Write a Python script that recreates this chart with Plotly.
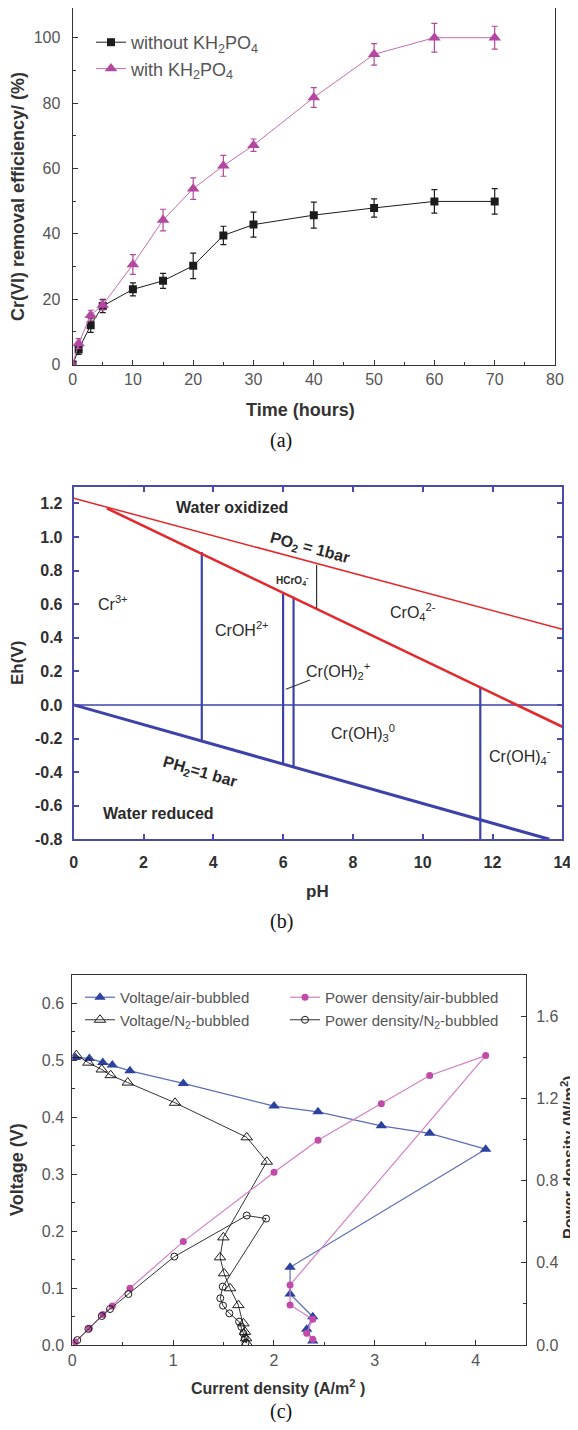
import plotly.graph_objects as go

W, H = 578, 1430
OFF = 8  # the page body margin shifts the figure by 8 px
FW, FH = W - OFF, H - 2 * OFF  # keep the page free of scrollbars
FONT = "Liberation Sans, Arial, sans-serif"
SERIF = "Liberation Serif, Times New Roman, serif"

# ---------------- (a) Cr(VI) removal efficiency ----------------
time_h = [0, 1, 3, 5, 10, 15, 20, 25, 30, 40, 50, 60, 70]
eff_without = [0, 4.6, 12.0, 17.9, 23.0, 25.6, 30.2, 39.5, 42.8, 45.7, 47.9, 49.9, 49.9]
err_without = [0, 1.5, 2.2, 2.0, 2.0, 2.3, 3.9, 2.8, 3.8, 4.0, 2.8, 3.6, 3.9]
eff_with = [0, 6.4, 15.1, 18.2, 30.6, 44.2, 53.8, 60.8, 67.1, 81.7, 94.9, 100, 100]
err_with = [0, 1.5, 1.5, 1.5, 3.0, 3.3, 3.3, 3.2, 1.9, 3.0, 3.3, 4.4, 3.5]

# ---------------- (b) Eh-pH diagram ----------------
o2_ph = [0, 14]
o2_eh = [1.23, 0.45]
cr6_ph = [0.95, 14]
cr6_eh = [1.17, -0.13]
h2_ph = [0, 13.63]
h2_eh = [0.0, -0.80]
zero_ph = [0, 14]
zero_eh = [0.0, 0.0]
bound_ph = [3.67, 6.0, 6.3, 11.65]
bound_low = [-0.218, -0.348, -0.372, -0.80]
bound_high = [0.91, 0.67, 0.644, 0.107]
hcro4_ph = [6.96, 6.96]
hcro4_eh = [0.575, 0.833]
pointer_ph = [6.08, 6.77]
pointer_eh = [0.093, 0.148]
region_labels = ["Water oxidized", "PO<sub>2</sub> = 1bar", "HCrO<sub>4</sub><sup>-</sup>",
                 "Cr<sup>3+</sup>", "CrOH<sup>2+</sup>", "CrO<sub>4</sub><sup>2-</sup>",
                 "Cr(OH)<sub>2</sub><sup>+</sup>", "Cr(OH)<sub>3</sub><sup>0</sup>",
                 "Cr(OH)<sub>4</sub><sup>-</sup>", "PH<sub>2</sub>=1 bar", "Water reduced"]
region_ph = [4.54, 6.77, 6.28, 1.13, 4.82, 9.72, 7.58, 8.28, 12.79, 3.62, 2.44]
region_eh = [1.174, 0.93, 0.743, 0.605, 0.45, 0.555, 0.20, -0.165, -0.305, -0.40, -0.645]
eh_ticks = [-0.8, -0.6, -0.4, -0.2, 0.0, 0.2, 0.4, 0.6, 0.8, 1.0, 1.2]
eh_ticktext = ["-0.8", "-0.6", "-0.4", "-0.2", "0.0", "0.2", "0.4", "0.6", "0.8", "1.0", "1.2"]

# ---------------- (c) polarization / power curves ----------------
air_current = [0.03, 0.169, 0.302, 0.397, 0.572, 1.101, 2.001, 2.437, 3.065, 3.545, 4.10,
               2.160, 2.160, 2.385, 2.325, 2.385]
air_voltage = [0.505, 0.5035, 0.4965, 0.4917, 0.4817, 0.4596, 0.4197, 0.4097, 0.385, 0.3718, 0.344,
               0.1365, 0.0896, 0.0497, 0.0276, 0.007]
air_power = [0.015, 0.081, 0.148, 0.19, 0.276, 0.503, 0.840, 0.996, 1.174, 1.311, 1.408,
             0.292, 0.195, 0.125, 0.057, 0.028]
n2_current = [0.04, 0.159, 0.292, 0.381, 0.55, 1.019, 1.730, 1.929, 1.498, 1.465, 1.505,
              1.565, 1.647, 1.697, 1.713, 1.723, 1.730]
n2_voltage = [0.509, 0.496, 0.484, 0.474, 0.461, 0.4255, 0.3648, 0.322, 0.189, 0.154, 0.126,
              0.0996, 0.070, 0.038, 0.023, 0.0118, 0.003]
n2_p_current = [0.05, 0.159, 0.292, 0.374, 0.556, 1.012, 1.730, 1.922, 1.492, 1.468, 1.495,
                1.558, 1.654, 1.676, 1.697, 1.710, 1.718]
n2_power = [0.024, 0.078, 0.141, 0.175, 0.248, 0.430, 0.630, 0.615, 0.284, 0.2275, 0.1915,
            0.154, 0.1136, 0.089, 0.057, 0.0326, 0.011]


def px(x):
    return min(max((x - OFF) / FW, 0.0), 1.0)


def py(y):
    return min(max(1 - (y - OFF) / FH, 0.0), 1.0)


BLACK = "#1c1c1c"
MAG_A = "#B4479F"
MAG_A_LINE = "#C46CB7"
BLUE_C = "#2C42A0"
BLUE_C_LINE = "#5A6CBA"
MAG_C = "#C24AA8"
MAG_C_LINE = "#D27FC6"
RED = "#E5282B"
BBLUE = "#3C42A8"
FRAME_B = "#4A4AAA"

fig = go.Figure()

# ---- (a) traces
fig.add_trace(go.Scatter(
    x=time_h, y=eff_without, mode="lines+markers",
    name="without KH<sub>2</sub>PO<sub>4</sub>",
    line=dict(color=BLACK, width=1),
    marker=dict(symbol="square", size=8, color=BLACK),
    error_y=dict(type="data", array=err_without, color=BLACK, thickness=1.2, width=3),
    xaxis="x", yaxis="y", legend="legend"))
fig.add_trace(go.Scatter(
    x=time_h, y=eff_with, mode="lines+markers",
    name="with KH<sub>2</sub>PO<sub>4</sub>",
    line=dict(color=MAG_A_LINE, width=1),
    marker=dict(symbol="triangle-up", size=11, color=MAG_A),
    error_y=dict(type="data", array=err_with, color=MAG_A, thickness=1.2, width=3),
    xaxis="x", yaxis="y", legend="legend"))

# ---- (b) traces
def seg_lines(xs_pairs, ys_pairs):
    xs, ys = [], []
    for xp, yp in zip(xs_pairs, ys_pairs):
        xs += list(xp) + [None]
        ys += list(yp) + [None]
    return xs, ys


bx, by = seg_lines([[p, p] for p in bound_ph], [[lo, hi] for lo, hi in zip(bound_low, bound_high)])
lines_b = [
    (zero_ph, zero_eh, BBLUE, 1.5),
    (bx, by, BBLUE, 2.2),
    (h2_ph, h2_eh, BBLUE, 3),
    (o2_ph, o2_eh, RED, 1.5),
    (cr6_ph, cr6_eh, RED, 2.6),
    (hcro4_ph, hcro4_eh, "#333333", 1.2),
    (pointer_ph, pointer_eh, "#333333", 1.2),
]
for xs, ys, col, wd in lines_b:
    fig.add_trace(go.Scatter(x=xs, y=ys, mode="lines", line=dict(color=col, width=wd),
                             xaxis="x2", yaxis="y2", showlegend=False, hoverinfo="skip"))

# ---- (c) traces
fig.add_trace(go.Scatter(
    x=air_current, y=air_voltage, mode="lines+markers", name="Voltage/air-bubbled",
    line=dict(color=BLUE_C_LINE, width=1.2),
    marker=dict(symbol="triangle-up", size=10, color=BLUE_C),
    xaxis="x3", yaxis="y3", legend="legend2"))
fig.add_trace(go.Scatter(
    x=air_current, y=air_power, mode="lines+markers", name="Power density/air-bubbled",
    line=dict(color=MAG_C_LINE, width=1.2),
    marker=dict(symbol="circle", size=7, color=MAG_C),
    xaxis="x3", yaxis="y4", legend="legend3"))
fig.add_trace(go.Scatter(
    x=n2_current, y=n2_voltage, mode="lines+markers", name="Voltage/N<sub>2</sub>-bubbled",
    line=dict(color="#333333", width=1),
    marker=dict(symbol="triangle-up-open", size=10, color=BLACK, line=dict(width=1)),
    xaxis="x3", yaxis="y3", legend="legend2"))
fig.add_trace(go.Scatter(
    x=n2_p_current, y=n2_power, mode="lines+markers", name="Power density/N<sub>2</sub>-bubbled",
    line=dict(color="#333333", width=1),
    marker=dict(symbol="circle-open", size=7, color=BLACK, line=dict(width=1)),
    xaxis="x3", yaxis="y4", legend="legend3"))

# ---- axes
tick_a = dict(family=FONT, size=16, color="#555555")
tick_b = dict(family=FONT, size=16, color="#303030", weight="bold")
common = dict(showgrid=False, zeroline=False, showline=True, automargin=False)

# panel (a) frame top sits at the very top of the figure area
A_BOTTOM, A_TOP_PX = 364.5, 8.0
A_YMAX = 110 * (A_BOTTOM - A_TOP_PX) / (A_BOTTOM - 5.0)

layout = dict(
    template="none",
    width=FW, height=FH, margin=dict(l=0, r=0, t=0, b=0, pad=0),
    paper_bgcolor="white", plot_bgcolor="white",
    font=dict(family=FONT),
    # (a)
    xaxis=dict(domain=[px(72.6), px(555)], anchor="y", range=[0, 80], dtick=10, tick0=0,
               ticks="inside", ticklen=5, tickcolor="#333", linecolor="#333", linewidth=1,
               mirror=True, tickfont=tick_a, ticklabelstandoff=0,
               minor=dict(dtick=5, ticks="inside", ticklen=3, tickcolor="#333"), **common),
    yaxis=dict(domain=[py(A_BOTTOM), py(A_TOP_PX)], anchor="x", range=[0, A_YMAX], dtick=20, tick0=0,
               ticks="inside", ticklen=5, tickcolor="#333", linecolor="#333", linewidth=1,
               mirror=True, tickfont=tick_a, ticklabelstandoff=8,
               minor=dict(dtick=10, ticks="inside", ticklen=3, tickcolor="#333"), **common),
    # (b)
    xaxis2=dict(domain=[px(73.7), px(562.3)], anchor="y2", range=[0, 14], dtick=2, tick0=0,
                ticks="inside", ticklen=5, tickwidth=1.5, tickcolor=FRAME_B, linecolor=FRAME_B,
                linewidth=2, mirror="ticks", tickfont=tick_b, ticklabelstandoff=7, **common),
    yaxis2=dict(domain=[py(839.3), py(486.5)], anchor="x2", range=[-0.8, 1.3],
                tickvals=eh_ticks, ticktext=eh_ticktext,
                ticks="inside", ticklen=5, tickwidth=1.5, tickcolor=FRAME_B, linecolor=FRAME_B,
                linewidth=2, mirror="ticks", tickfont=tick_b, ticklabelstandoff=6, **common),
    # (c)
    xaxis3=dict(domain=[px(72.3), px(526)], anchor="y3", range=[0, 4.5], dtick=1, tick0=0,
                ticks="inside", ticklen=5, tickcolor="#333", linecolor="#333", linewidth=1,
                mirror=True, tickfont=tick_a, ticklabelstandoff=1,
                minor=dict(dtick=0.5, ticks="inside", ticklen=3, tickcolor="#333"), **common),
    yaxis3=dict(domain=[py(1345), py(975)], anchor="x3", range=[0, 0.65], dtick=0.1, tick0=0,
                tickformat=".1f",
                ticks="inside", ticklen=5, tickcolor="#333", linecolor="#333", linewidth=1,
                mirror=False, tickfont=tick_a, ticklabelstandoff=4,
                minor=dict(dtick=0.05, ticks="inside", ticklen=3, tickcolor="#333"), **common),
    yaxis4=dict(overlaying="y3", side="right", anchor="x3", range=[0, 1.8], dtick=0.4, tick0=0,
                tickformat=".1f",
                ticks="inside", ticklen=5, tickcolor="#333", linecolor="#333", linewidth=1,
                tickfont=tick_a, ticklabelstandoff=6,
                minor=dict(dtick=0.2, ticks="inside", ticklen=3, tickcolor="#333"), **common),
    legend=dict(x=px(91), y=py(24), xanchor="left", yanchor="top", bgcolor="rgba(0,0,0,0)",
                font=dict(family=FONT, size=18, color="#555555")),
    legend2=dict(x=px(80), y=py(981), xanchor="left", yanchor="top", bgcolor="rgba(0,0,0,0)",
                 font=dict(family=FONT, size=15, color="#555555")),
    legend3=dict(x=px(285), y=py(981), xanchor="left", yanchor="top", bgcolor="rgba(0,0,0,0)",
                 font=dict(family=FONT, size=15, color="#555555")),
)
fig.update_layout(**layout)

annos = []
# (a) titles
annos.append(dict(x=px(18), y=py(197), text="Cr(VI) removal efficiency/ (%)", textangle=-90,
                  font=dict(family=FONT, size=18, color="#333", weight="bold")))
annos.append(dict(x=px(300), y=py(410), text="Time (hours)",
                  font=dict(family=FONT, size=18, color="#333", weight="bold")))
annos.append(dict(x=px(281), y=py(440), text="(a)", font=dict(family=SERIF, size=20, color="#111")))
# (b) titles
annos.append(dict(x=px(17), y=py(663), text="Eh(V)", textangle=-90,
                  font=dict(family=FONT, size=17, color="#303030", weight="bold")))
annos.append(dict(x=px(317), y=py(891.7), text="pH",
                  font=dict(family=FONT, size=17, color="#303030", weight="bold")))
annos.append(dict(x=px(281), y=py(921.7), text="(b)", font=dict(family=SERIF, size=20, color="#111")))
# (c) titles
annos.append(dict(x=px(17), y=py(1170), text="Voltage (V)", textangle=-90,
                  font=dict(family=FONT, size=18, color="#333", weight="bold")))
annos.append(dict(x=px(278), y=py(1387), text="Current density (A/m<sup>2</sup> )",
                  font=dict(family=FONT, size=16, color="#333", weight="bold")))
annos.append(dict(x=px(568), y=py(1157), text="Power density (W/m<sup>2</sup>)", textangle=-90,
                  font=dict(family=FONT, size=16, color="#333", weight="bold")))
annos.append(dict(x=px(281), y=py(1411), text="(c)", font=dict(family=SERIF, size=20, color="#111")))
for a in annos:
    a.update(xref="paper", yref="paper", showarrow=False, xanchor="center", yanchor="middle")

# (b) region labels (data coordinates)
styles = {
    "Water oxidized": dict(size=16, weight="bold", angle=0),
    "Water reduced": dict(size=16, weight="bold", angle=0),
    "PO<sub>2</sub> = 1bar": dict(size=16, weight="bold", angle=15),
    "PH<sub>2</sub>=1 bar": dict(size=16, weight="bold", angle=16),
    "HCrO<sub>4</sub><sup>-</sup>": dict(size=10, weight="bold", angle=0),
}
for lab, xv, yv in zip(region_labels, region_ph, region_eh):
    st = styles.get(lab, dict(size=16, weight="normal", angle=0))
    annos.append(dict(x=xv, y=yv, xref="x2", yref="y2", text=lab, showarrow=False,
                      textangle=st["angle"], xanchor="center", yanchor="middle",
                      font=dict(family=FONT, size=st["size"], color="#2a2a2a", weight=st["weight"])))

fig.update_layout(annotations=annos)
fig.write_html("out.html")
